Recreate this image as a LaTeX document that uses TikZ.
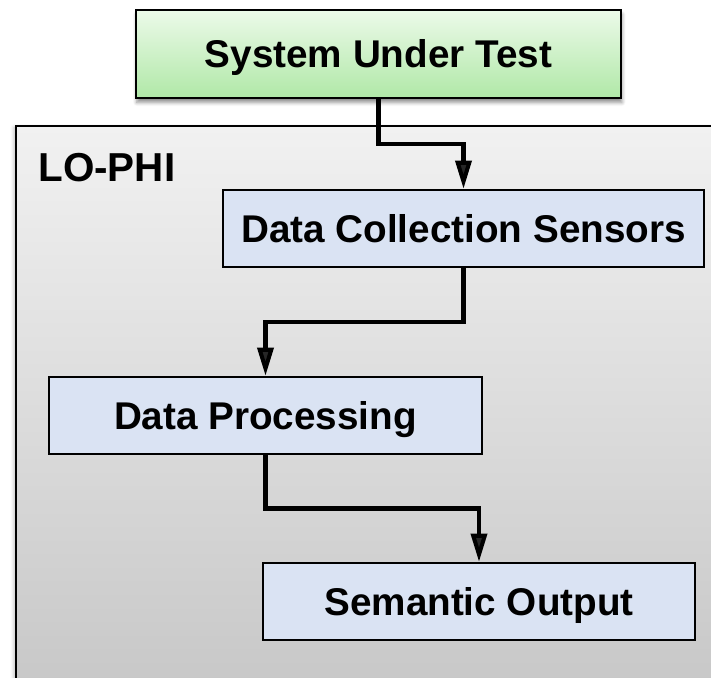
\documentclass[tikz,border=0pt]{standalone}
\usepackage{fontspec}
\setmainfont{Liberation Sans}
\usetikzlibrary{arrows.meta,shadows,shadows.blur,calc}
\definecolor{suttop}{RGB}{236,250,233}
\definecolor{sutbottom}{RGB}{176,232,167}
\definecolor{stagefill}{RGB}{218,227,243}
\definecolor{frametop}{RGB}{241,241,241}
\definecolor{framebottom}{RGB}{198,198,198}
\begin{document}
\begin{tikzpicture}[
    box/.style={draw=black, line width=1.3pt, font=\fontsize{22}{26}\selectfont\bfseries, inner sep=0pt, minimum height=1.54cm, text height=19.8pt, text depth=4pt},
    stage/.style={box, fill=stagefill},
    flow/.style={line width=2.3pt, -{Triangle[length=16pt,width=9pt]}}
]
    \useasboundingbox (0,0) rectangle (14.22,-13.56);
    \draw[line width=1.3pt, top color=frametop, bottom color=framebottom, blur shadow={shadow xshift=-1pt, shadow yshift=-1pt, shadow blur steps=4, shadow opacity=30}] (0.32,-2.52) rectangle (14.6,-14.2);
    \node[anchor=base west, inner sep=0pt, font=\fontsize{23}{27}\selectfont\bfseries] (lophi) at (0.76,-3.634) {LO-PHI};
    \node[box, top color=suttop, bottom color=sutbottom, minimum width=9.7cm, minimum height=1.76cm, blur shadow={shadow xshift=0.5pt, shadow yshift=-2.5pt, shadow blur steps=5, shadow opacity=45}] (sut) at (7.57,-1.08) {System Under Test};
    \node[stage, minimum width=9.62cm] (sensors) at (9.27,-4.57) {Data Collection Sensors};
    \node[stage, minimum width=8.66cm] (processing) at (5.31,-8.31) {Data Processing};
    \node[stage, minimum width=8.64cm] (output) at (9.58,-12.03) {Semantic Output};
    \draw[flow] (sut.south) |- ($(sut.south)!.5!(sensors.north)$) -| (sensors.north);
    \draw[flow] (sensors.south) |- ($(sensors.south)!.5!(processing.north)$) -| (processing.north);
    \draw[flow] (processing.south) |- ($(processing.south)!.5!(output.north)$) -| (output.north);
\end{tikzpicture}
\end{document}
